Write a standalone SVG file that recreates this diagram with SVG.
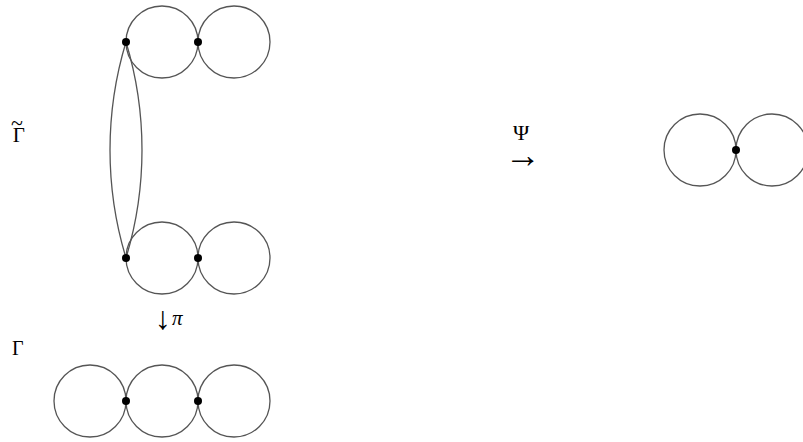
<svg xmlns="http://www.w3.org/2000/svg" width="803" height="442" viewBox="0 0 803 442">
<style>
.c{fill:none;stroke:#555;stroke-width:1.3}
.d{fill:#000}
.t{font-family:"Liberation Serif",serif;fill:#000}
</style>
<rect width="803" height="442" fill="#fff"/>
<g id="connectors">
<path class="c" d="M126,42 A372.5,372.5 0 0 0 126,258"/>
<path class="c" d="M126,42 A372.5,372.5 0 0 1 126,258"/>
</g>
<g id="top-pair">
<circle class="c" cx="162" cy="42" r="36"/>
<circle class="c" cx="234" cy="42" r="36"/>
<circle class="d" cx="126" cy="42" r="4"/>
<circle class="d" cx="198" cy="42" r="4"/>
</g>
<g id="bottom-pair">
<circle class="c" cx="162" cy="258" r="36"/>
<circle class="c" cx="234" cy="258" r="36"/>
<circle class="d" cx="126" cy="258" r="4"/>
<circle class="d" cx="198" cy="258" r="4"/>
</g>
<g id="gamma-row">
<circle class="c" cx="90" cy="401" r="36"/>
<circle class="c" cx="162" cy="401" r="36"/>
<circle class="c" cx="234" cy="401" r="36"/>
<circle class="d" cx="126" cy="401" r="4"/>
<circle class="d" cx="198" cy="401" r="4"/>
</g>
<g id="psi-image">
<circle class="c" cx="700" cy="150" r="36"/>
<circle class="c" cx="772" cy="150" r="36"/>
<circle class="d" cx="736" cy="150" r="4"/>
</g>
<g id="labels">
<text class="t" x="11" y="142" font-size="21">Γ<tspan dx="-14" dy="-12" font-size="22">~</tspan></text>
<text class="t" x="12" y="355" font-size="20">Γ</text>
<text class="t" x="513" y="140" font-size="22">Ψ</text>
<text class="t" x="505" y="167" font-size="36">→</text>
<text class="t" x="155" y="329" font-size="32">↓<tspan font-size="21" font-style="italic" dx="1" dy="-4">π</tspan></text>
</g>
</svg>
